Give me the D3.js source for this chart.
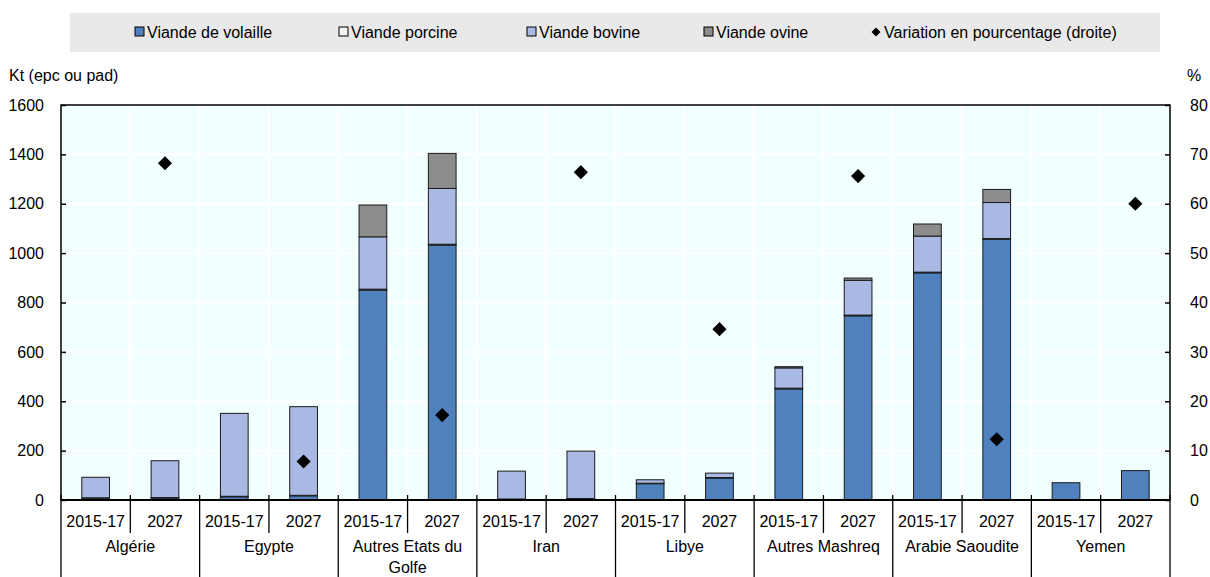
<!DOCTYPE html>
<html><head><meta charset="utf-8">
<script src="https://cdn.jsdelivr.net/npm/d3@7"></script>
<style>
body{margin:0;background:#fff;}
text{font-family:"Liberation Sans Narrow","Arial Narrow","Liberation Sans",Arial,sans-serif;font-size:16px;fill:#000;}
</style></head><body>
<svg id="c" width="1210" height="577"></svg>
<script>
const groups = ["Algérie","Egypte","Autres Etats du Golfe","Iran","Libye","Autres Mashreq","Arabie Saoudite","Yemen"];
const periods = ["2015-17","2027"];
const volaille = [7,8, 13,17, 850,1032, 3,5, 66,89, 450,746, 920,1056, 70,119];
const porcine  = [2,2, 2,2, 4,4, 1,1, 2,2, 3,3, 3,3, 0,0];
const bovine   = [83,149, 336,359, 212,226, 113,192, 14,18, 82,141, 146,146, 0,0];
const ovine    = [0,0, 0,0, 129,142, 0,0, 0,0, 5,9, 49,53, 0,0];
const variation = [68.2, 7.8, 17.2, 66.4, 34.6, 65.6, 12.3, 60.0];
const leftTicks = [0,200,400,600,800,1000,1200,1400,1600];
const rightTicks = [0,10,20,30,40,50,60,70,80];
const seriesNames = ["Viande de volaille","Viande porcine","Viande bovine","Viande ovine"];
const seriesColors = ["#4F81BD","#F2F2F2","#A9B9E3","#8C8C8C"];

const svg = d3.select("#c");
const L=61, R=1170, T=105, B=500;
const keys = [];
groups.forEach(g=>periods.forEach(p=>keys.push(g+"|"+p)));
const x = d3.scaleBand().domain(keys).range([L,R]).paddingInner(0.6).paddingOuter(0.3);
const step = (R-L)/keys.length;
const y = d3.scaleLinear().domain([0,1600]).range([B,T]);
const y2 = d3.scaleLinear().domain([0,80]).range([B,T]);

// plot background
svg.append("rect").attr("x",L).attr("y",T).attr("width",R-L).attr("height",B-T).attr("fill","#F2FFFF");
// grid
svg.append("g").selectAll("line").data(leftTicks.slice(1)).join("line")
  .attr("x1",L).attr("x2",R).attr("y1",d=>y(d)).attr("y2",d=>y(d)).attr("stroke","#fff").attr("stroke-width",2);
svg.append("g").selectAll("line").data(d3.range(1,keys.length)).join("line")
  .attr("x1",i=>L+i*step).attr("x2",i=>L+i*step).attr("y1",T).attr("y2",B).attr("stroke","#fff").attr("stroke-width",2);

// stacks
const rows = keys.map((k,i)=>({key:k, v:[volaille[i],porcine[i],bovine[i],ovine[i]]}));
const stack = d3.stack().keys([0,1,2,3]).value((d,k)=>d.v[k]);
const layers = stack(rows);
layers.forEach((layer,li)=>{
  svg.append("g").selectAll("rect").data(layer.filter(d=>d[1]-d[0]>0)).join("rect")
    .attr("x",d=>x(d.data.key)).attr("width",x.bandwidth())
    .attr("y",d=>y(d[1])).attr("height",d=>y(d[0])-y(d[1]))
    .attr("fill",seriesColors[li]).attr("stroke","#1a1a1a").attr("stroke-width",1);
});

// diamonds
const diamond = d3.symbol(d3.symbolSquare, 100);
svg.append("g").selectAll("path").data(groups).join("path")
  .attr("d",diamond)
  .attr("transform",(g,i)=>`translate(${x(g+"|2027")+x.bandwidth()/2},${y2(variation[i])}) rotate(45)`)
  .attr("fill","#000");

// frame
svg.append("rect").attr("x",L).attr("y",T).attr("width",R-L).attr("height",B-T).attr("fill","none").attr("stroke","#000").attr("stroke-width",1.5);

// axes
const la = svg.append("g").attr("transform",`translate(${L},0)`).call(d3.axisLeft(y).tickValues(leftTicks).tickSize(-5).tickPadding(17).tickFormat(d3.format("d")));
la.select(".domain").remove();
la.selectAll("line").attr("stroke","#000").attr("stroke-width",1.5);
la.selectAll("text").style("font-size","16px");
const ra = svg.append("g").attr("transform",`translate(${R},0)`).call(d3.axisRight(y2).tickValues(rightTicks).tickSize(-5).tickPadding(20).tickFormat(d3.format("d")));
ra.select(".domain").remove();
ra.selectAll("line").attr("stroke","#000").attr("stroke-width",1.5);
ra.selectAll("text").style("font-size","16px");

svg.append("text").attr("x",9).attr("y",81).text("Kt (epc ou pad)");
svg.append("text").attr("x",1187).attr("y",81).text("%");

// x axis
svg.append("line").attr("x1",L).attr("x2",R).attr("y1",B).attr("y2",B).attr("stroke","#000").attr("stroke-width",2);
d3.range(0,keys.length+1).forEach(i=>{
  const xx = L+i*step;
  const isGroup = i%2===0;
  svg.append("line").attr("x1",xx).attr("x2",xx).attr("y1",B-5).attr("y2",isGroup?577:533).attr("stroke","#000").attr("stroke-width",1.3);
});
svg.append("g").selectAll("text").data(keys).join("text")
  .attr("x",d=>x(d)+x.bandwidth()/2).attr("y",527).attr("text-anchor","middle")
  .text(d=>d.split("|")[1]);
const gLab = svg.append("g");
groups.forEach((g,i)=>{
  const cx = L+(2*i+1)*step;
  const t = gLab.append("text").attr("x",cx).attr("y",552).attr("text-anchor","middle");
  if(g==="Autres Etats du Golfe"){
    t.append("tspan").attr("x",cx).text("Autres Etats du");
    t.append("tspan").attr("x",cx).attr("dy",21).text("Golfe");
  } else t.text(g);
});

// legend
svg.append("rect").attr("x",70).attr("y",13).attr("width",1090).attr("height",39).attr("fill","#E9E9E9");
const lx = [135,339,527,704];
seriesNames.forEach((n,i)=>{
  svg.append("rect").attr("x",lx[i]).attr("y",27).attr("width",9).attr("height",9)
    .attr("fill",seriesColors[i]).attr("stroke","#000").attr("stroke-width",1);
  svg.append("text").attr("x",lx[i]+12).attr("y",38).text(n);
});
svg.append("path").attr("d",d3.symbol(d3.symbolSquare,40)).attr("transform","translate(876,32) rotate(45)").attr("fill","#000");
svg.append("text").attr("x",884).attr("y",38).text("Variation en pourcentage (droite)");
</script></body></html>
